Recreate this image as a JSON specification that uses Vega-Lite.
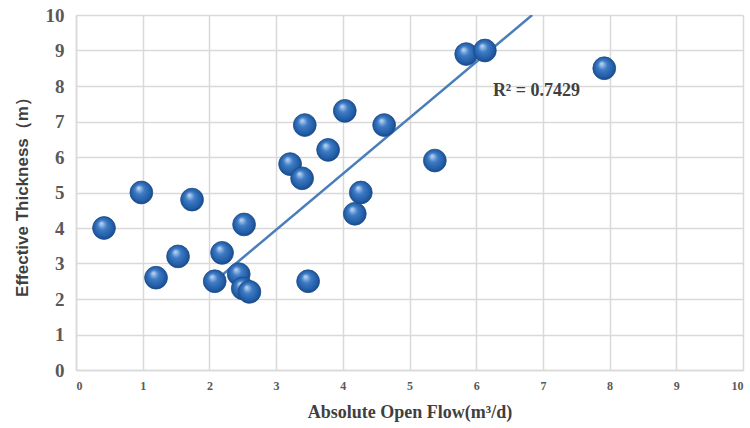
{
  "$schema": "https://vega.github.io/schema/vega-lite/v6.json",
  "width": 667,
  "height": 355,
  "autosize": {"type": "none"},
  "padding": {"left": 76, "top": 15, "right": 7, "bottom": 58},
  "background": "white",
  "config": {
    "view": {"stroke": null},
    "axis": {
      "gridColor": "#d9d9d9",
      "gridWidth": 1.5,
      "domainColor": "#d9d9d9",
      "domainWidth": 1.5,
      "ticks": false,
      "labelOverlap": false,
      "labelFont": "Liberation Serif",
      "labelFontWeight": "bold",
      "labelColor": "#595959",
      "titleColor": "#404040",
      "titleFontWeight": "bold"
    }
  },
  "datasets": {
    "pts": [
      {"aof": 0.42, "h": 4.0},
      {"aof": 0.98, "h": 5.0},
      {"aof": 1.2, "h": 2.6},
      {"aof": 1.53, "h": 3.2},
      {"aof": 1.74, "h": 4.8},
      {"aof": 2.08, "h": 2.5},
      {"aof": 2.19, "h": 3.3},
      {"aof": 2.44, "h": 2.7},
      {"aof": 2.52, "h": 4.1},
      {"aof": 2.5, "h": 2.3},
      {"aof": 2.6, "h": 2.2},
      {"aof": 3.21, "h": 5.8},
      {"aof": 3.39, "h": 5.4},
      {"aof": 3.43, "h": 6.9},
      {"aof": 3.48, "h": 2.5},
      {"aof": 3.78, "h": 6.2},
      {"aof": 4.03, "h": 7.3},
      {"aof": 4.18, "h": 4.4},
      {"aof": 4.27, "h": 5.0},
      {"aof": 4.62, "h": 6.9},
      {"aof": 5.38, "h": 5.9},
      {"aof": 5.85, "h": 8.9},
      {"aof": 6.13, "h": 9.0},
      {"aof": 7.92, "h": 8.5}
    ],
    "trend": [
      {"aof": 2.08, "h": 2.5},
      {"aof": 6.84, "h": 10.0}
    ],
    "label": [
      {"aof": 6.25, "h": 7.85, "text": "R² = 0.7429"}
    ]
  },
  "encoding": {
    "x": {
      "field": "aof", "type": "quantitative",
      "scale": {"domain": [0, 10], "nice": false},
      "axis": {
        "title": "Absolute Open Flow(m³/d)",
        "titleFont": "Liberation Serif",
        "titleFontSize": 18,
        "titlePadding": 12,
        "labelFontSize": 12,
        "labelPadding": 10,
        "format": "d",
        "tickCount": 40,
        "values": [0,1,2,3,4,5,6,7,8,9,10]
      }
    },
    "y": {
      "field": "h", "type": "quantitative",
      "scale": {"domain": [0, 10], "nice": false},
      "axis": {
        "title": "Effective Thickness（m）",
        "titleFont": "Liberation Sans",
        "titleFontSize": 17,
        "titlePadding": 14,
        "labelFontSize": 19,
        "labelPadding": 12,
        "format": "d",
        "tickCount": 40,
        "values": [0,1,2,3,4,5,6,7,8,9,10]
      }
    }
  },
  "layer": [
    {
      "data": {"name": "trend"},
      "mark": {"type": "line", "color": "#4a7ebb", "strokeWidth": 2.5, "clip": true}
    },
    {
      "data": {"name": "pts"},
      "mark": {
        "type": "point",
        "shape": "circle",
        "filled": true,
        "size": 520,
        "opacity": 1,
        "stroke": "#1f4e8c",
        "strokeWidth": 0.8,
        "fill": {
          "gradient": "radial",
          "x1": 0.38, "y1": 0.3, "r1": 0.02,
          "x2": 0.5, "y2": 0.5, "r2": 0.55,
          "stops": [
            {"offset": 0, "color": "#b9d3f2"},
            {"offset": 0.35, "color": "#3f7cc6"},
            {"offset": 0.8, "color": "#1f5aa3"},
            {"offset": 1, "color": "#143f78"}
          ]
        }
      }
    },
    {
      "data": {"name": "label"},
      "mark": {
        "type": "text",
        "align": "left",
        "baseline": "middle",
        "font": "Liberation Serif",
        "fontWeight": "bold",
        "fontSize": 18,
        "color": "#404040"
      },
      "encoding": {
        "text": {"field": "text"}
      }
    }
  ]
}
